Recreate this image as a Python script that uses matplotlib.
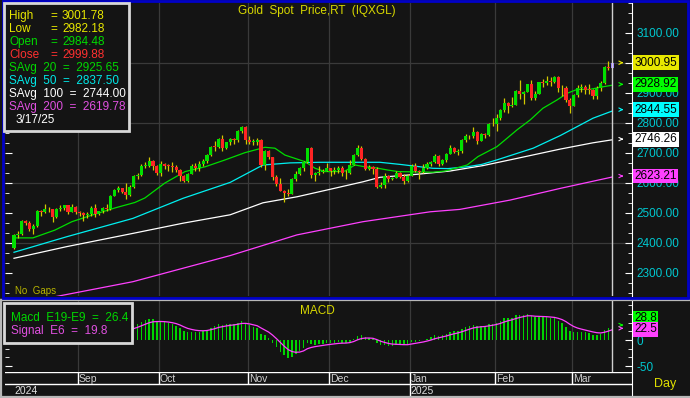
import matplotlib.pyplot as plt
import matplotlib.transforms as mtransforms
from matplotlib.patches import Rectangle
from matplotlib.lines import Line2D
import numpy as np
import pandas as pd

plt.rcParams['font.family'] = ['Liberation Sans', 'DejaVu Sans']

# trading days shown (spot gold, no Christmas / New Year bars)
dates = pd.bdate_range('2024-08-08', '2025-03-17')
dates = dates[~dates.isin(pd.to_datetime(['2024-12-25', '2025-01-01']))]

closes = [
    # Aug
    2427, 2431, 2472, 2465, 2447, 2456, 2507, 2504, 2514, 2512, 2485, 2512, 2518, 2525, 2504, 2521, 2503,
    # Sep
    2500, 2493, 2495, 2517, 2497, 2506, 2516, 2512, 2558, 2578, 2582, 2569, 2559, 2587, 2622, 2628, 2657,
    2657, 2672, 2658, 2634,
    # Oct
    2662, 2657, 2656, 2653, 2644, 2622, 2608, 2630, 2657, 2649, 2662, 2674, 2692, 2721, 2720, 2748, 2715,
    2736, 2747, 2743, 2774, 2788, 2744,
    # Nov
    2736, 2736, 2743, 2659, 2706, 2685, 2619, 2598, 2573, 2565, 2563, 2612, 2631, 2650, 2670, 2715, 2625,
    2633, 2638, 2641, 2650,
    # Dec
    2640, 2643, 2650, 2632, 2633, 2660, 2694, 2718, 2680, 2648, 2652, 2646, 2586, 2594, 2622, 2612, 2617,
    2634, 2621, 2606, 2624,
    # Jan
    2658, 2640, 2636, 2649, 2662, 2670, 2690, 2663, 2677, 2697, 2715, 2702, 2708, 2744, 2755, 2755, 2770,
    2740, 2763, 2760, 2795, 2798,
    # Feb
    2815, 2842, 2867, 2856, 2861, 2908, 2898, 2904, 2929, 2882, 2898, 2935, 2933, 2939, 2936, 2952, 2915,
    2916, 2876, 2858,
    # Mar
    2893, 2918, 2920, 2911, 2910, 2889, 2916, 2934, 2988, 2984, 2999.88,
]
highs = [
    2431, 2439, 2475, 2477, 2473, 2463, 2509, 2510, 2531, 2520, 2514, 2517, 2527, 2528, 2528, 2529, 2524,
    2505, 2503, 2503, 2523, 2529, 2508, 2519, 2529, 2560, 2581, 2590, 2584, 2600, 2594, 2625, 2633, 2664,
    2670, 2686, 2675, 2660,
    2673, 2667, 2664, 2670, 2660, 2646, 2625, 2634, 2664, 2667, 2673, 2679, 2696, 2723, 2740, 2749, 2759,
    2738, 2749, 2750, 2775, 2790, 2791,
    2757, 2745, 2750, 2747, 2710, 2709, 2685, 2627, 2618, 2575, 2579, 2615, 2639, 2652, 2674, 2717, 2721,
    2637, 2656, 2646, 2666,
    2650, 2652, 2658, 2656, 2644, 2676, 2697, 2726, 2722, 2684, 2661, 2655, 2654, 2604, 2632, 2628, 2620,
    2639, 2637, 2629, 2630,
    2662, 2665, 2643, 2664, 2671, 2674, 2697, 2694, 2680, 2701, 2725, 2719, 2714, 2746, 2763, 2760, 2786,
    2772, 2766, 2765, 2800, 2817,
    2830, 2845, 2882, 2869, 2886, 2911, 2942, 2908, 2931, 2943, 2908, 2938, 2947, 2955, 2954, 2956, 2956,
    2925, 2922, 2883,
    2896, 2928, 2930, 2927, 2930, 2914, 2922, 2940, 2990, 3005, 3001.78,
]
lows = [
    2380, 2417, 2428, 2459, 2440, 2431, 2452, 2491, 2500, 2502, 2470, 2483, 2505, 2511, 2497, 2502, 2496,
    2489, 2472, 2484, 2491, 2485, 2494, 2500, 2506, 2510, 2556, 2571, 2565, 2546, 2558, 2584, 2612, 2622,
    2650, 2654, 2643, 2625,
    2624, 2647, 2641, 2638, 2638, 2605, 2604, 2603, 2629, 2640, 2641, 2655, 2668, 2690, 2705, 2716, 2708,
    2712, 2725, 2731, 2736, 2766, 2730,
    2731, 2727, 2725, 2653, 2643, 2680, 2610, 2590, 2572, 2537, 2555, 2562, 2607, 2626, 2641, 2668, 2617,
    2605, 2627, 2632, 2640,
    2622, 2629, 2634, 2624, 2614, 2629, 2660, 2690, 2676, 2642, 2642, 2631, 2583, 2583, 2584, 2602, 2609,
    2615, 2617, 2596, 2604,
    2624, 2635, 2614, 2632, 2645, 2656, 2665, 2656, 2660, 2670, 2695, 2700, 2694, 2700, 2736, 2745, 2750,
    2730, 2739, 2750, 2756, 2790,
    2772, 2810, 2836, 2834, 2853, 2860, 2880, 2864, 2903, 2876, 2878, 2895, 2920, 2925, 2922, 2932, 2903,
    2890, 2871, 2832,
    2855, 2885, 2904, 2895, 2895, 2880, 2880, 2907, 2931, 2978, 2982.18,
]
first_open = 2382.0
last_open = 2984.48
opens = [first_open] + closes[:-1]
opens[-1] = last_open

# moving averages: (bar index, value)
sma20_i = [0, 4.9, 10.6, 15, 20.2, 26.2, 31.3, 33.9, 39.1, 44.3, 49.5, 54.7, 59.8, 65, 67.6, 70.2, 72.8,
           75.4, 78, 80.6, 83.2, 85.8, 88.3, 90.9, 93.5, 96.9, 99.5, 108.5, 111.7, 113.5, 117.4, 120.2,
           125.1, 126.7, 130.3, 133.7, 137, 140.7, 143.3, 145.9, 149.2, 151.8, 155]
sma20_v = [2417, 2417, 2443, 2471, 2493, 2517, 2535, 2550, 2600, 2638, 2654, 2677, 2701, 2719, 2716, 2693,
           2682, 2671, 2649, 2638, 2638, 2640, 2660, 2654, 2651, 2643, 2638, 2636, 2640, 2646, 2660, 2688,
           2721, 2738, 2777, 2810, 2849, 2877, 2899, 2912, 2912, 2919, 2926]
sma50_i = [0, 13.7, 30.8, 43.8, 56, 64.5, 71.5, 79.3, 94.8, 100, 108.5, 112.4, 117.4, 121.2, 125.1, 134.5,
           141.5, 150, 155]
sma50_v = [2369, 2421, 2482, 2549, 2602, 2660, 2667, 2669, 2669, 2662, 2649, 2648, 2654, 2662, 2677, 2716,
           2758, 2816, 2840]
sma100_i = [0, 13.7, 30.8, 43.8, 56, 64.5, 73.3, 81.9, 90.4, 94.8, 104.4, 113, 121.5, 130.3, 141.5, 150, 155]
sma100_v = [2349, 2388, 2432, 2466, 2494, 2534, 2554, 2579, 2604, 2619, 2629, 2640, 2658, 2682, 2713, 2734,
            2744]
sma200_i = [0, 11.9, 30.8, 56, 73.3, 90.4, 107.8, 115.5, 128.5, 141.5, 155]
sma200_v = [2195, 2224, 2271, 2358, 2427, 2471, 2504, 2512, 2543, 2582, 2620]

sma_last = [2925.65, 2837.50, 2744.00, 2619.78]
tag_values = [3000.95, 2928.92, 2844.55, 2746.26, 2623.21]
macd_tag, signal_tag = 28.8, 22.5
macd_legend, signal_legend = 26.4, 19.8

BG = '#141414'
GRID = '#3a3a3a'
GREEN, RED, WICK = '#00e000', '#ff2424', '#d2c800'
CYAN, MAG, YEL = '#00f0f0', '#ff40ff', '#e8e800'

W, H = 690, 398
def fx(px):
    return px / W
def fy(py):
    return 1 - py / H

n = len(closes)
idx = np.arange(n)
o = np.array(opens); c = np.array(closes); hi = np.array(highs); lo = np.array(lows)

fig = plt.figure(figsize=(6.9, 3.98), dpi=100, facecolor=BG)

# ---------- price panel ----------
ax = fig.add_axes([fx(5), fy(296), (632 - 5) / W, (296 - 3) / H], facecolor=BG)
ax.set_xlim(-2.33, 160.1)
ax.set_ylim(2223.3, 3200)

month_start = [i for i in range(1, n) if dates[i].month != dates[i - 1].month]
for i in month_start:
    ax.axvline(i - 0.5, color=GRID, lw=0.9, zorder=0)
for lvl in range(2400, 3001, 200):
    ax.axhline(lvl, color=GRID, lw=0.9, zorder=0)

ax.plot(sma200_i, sma200_v, color=MAG, lw=0.9, zorder=2)
ax.plot(sma100_i, sma100_v, color='white', lw=0.9, zorder=2)
ax.plot(sma50_i, sma50_v, color=CYAN, lw=0.9, zorder=2)
ax.plot(sma20_i, sma20_v, color='#00dd00', lw=0.9, zorder=2)

body_col = [GREEN if cc >= oo else RED for oo, cc in zip(o, c)]
body_col[-1] = '#9a78ff'
ax.vlines(idx, lo, hi, colors=WICK, lw=0.9, zorder=3)
ax.bar(idx, np.maximum(np.abs(c - o), 2.5), bottom=np.minimum(o, c), width=0.8,
       color=body_col, lw=0, zorder=4)

ax.axvline(n - 1, color='#d0d0d0', lw=1, zorder=5)

# the 3000 label sits fully under the last-price tag, so it is left blank
yt = list(range(2300, 3101, 100))
ax.yaxis.tick_right()
ax.set_yticks(yt)
ax.set_yticklabels(['' if v == 3000 else f'{v:.2f}' for v in yt])
ax.set_yticks(np.arange(2233.33, 3200, 100 / 3), minor=True)
ax.tick_params(axis='y', which='both', left=True, right=True, labelleft=False, labelright=True,
               direction='in', color='white', labelcolor='#00c8d0', labelsize=8.5, pad=3)
ax.tick_params(axis='y', which='major', length=5)
ax.tick_params(axis='y', which='minor', length=3)
ax.set_xticks([])
for s in ['top', 'bottom', 'left']:
    ax.spines[s].set_visible(False)
ax.spines['right'].set_color('white')

tr = mtransforms.blended_transform_factory(ax.transAxes, ax.transData)
tag_cols = [YEL, '#00ff00', '#00ffff', 'white', MAG]
for val, col in zip(tag_values, tag_cols):
    ax.text(1.004, val, f'{val:.2f}', transform=tr, ha='left', va='center', fontsize=8.5, color='black',
            bbox=dict(boxstyle='square,pad=0.12', fc=col, ec='none'), clip_on=False, zorder=10)
    ax.annotate('', xy=(158.6, val), xytext=(156.6, val),
                arrowprops=dict(arrowstyle='->', color=col, lw=0.8, mutation_scale=6), zorder=6)

fig.text(fx(317), fy(11), 'Gold  Spot  Price,RT  (IQXGL)', color='#d8d800', fontsize=8.5,
         ha='center', va='center')
fig.text(fx(15), fy(291), 'No  Gaps', color='#b8b400', fontsize=7, ha='left', va='center')

# ---------- MACD panel ----------
def ema(vals, span):
    k = 2 / (span + 1)
    out = [vals[0]]
    for v in vals[1:]:
        out.append(out[-1] + k * (v - out[-1]))
    return np.array(out)

macd = ema(closes, 9) - ema(closes, 19)
signal = ema(list(macd), 6)

ax2 = fig.add_axes([fx(5), fy(372), (632 - 5) / W, (372 - 301) / H], facecolor=BG)
ax2.set_xlim(-2.33, 160.1)
ax2.set_ylim(-61.5, 75)
for i in month_start:
    ax2.axvline(i - 0.5, color=GRID, lw=0.9, zorder=0)
ax2.bar(idx, macd, width=0.38, color='#00d400', lw=0, zorder=2)
ax2.plot(idx, signal, color=MAG, lw=0.9, zorder=3)
ax2.axvline(n - 1, color='#d0d0d0', lw=1, zorder=5)
ax2.yaxis.tick_right()
ax2.set_yticks([0, -50])
ax2.set_yticklabels(['0', '-50'])
ax2.set_yticks(np.arange(-50, 75, 50 / 3), minor=True)
ax2.tick_params(axis='y', which='both', left=True, right=True, labelleft=False, labelright=True,
                direction='in', color='white', labelcolor='#00c8d0', labelsize=8.5, pad=3)
ax2.tick_params(axis='y', which='major', length=5)
ax2.tick_params(axis='y', which='minor', length=3)
ax2.set_xticks([])
for s in ['top', 'bottom', 'left']:
    ax2.spines[s].set_visible(False)
ax2.spines['right'].set_color('white')
ax2.annotate('', xy=(158.6, macd_tag), xytext=(156.6, macd_tag),
             arrowprops=dict(arrowstyle='->', color='#00ff00', lw=0.8, mutation_scale=6))
ax2.annotate('', xy=(158.6, signal_tag), xytext=(156.6, signal_tag),
             arrowprops=dict(arrowstyle='->', color=MAG, lw=0.8, mutation_scale=6))

fig.text(fx(634), fy(318), f'{macd_tag:.1f}', color='black', fontsize=8.5, ha='left', va='center',
         bbox=dict(boxstyle='square,pad=0.12', fc='#00ff00', ec='none'), zorder=10)
fig.text(fx(634), fy(329.5), f'{signal_tag:.1f}', color='black', fontsize=8.5, ha='left', va='center',
         bbox=dict(boxstyle='square,pad=0.12', fc=MAG, ec='none'), zorder=10)
fig.text(fx(317), fy(311), 'MACD', color='#d8d800', fontsize=8.5, ha='center', va='center')

# ---------- date strip ----------
ax3 = fig.add_axes([fx(5), fy(396), (632 - 5) / W, (396 - 372) / H], facecolor=BG)
ax3.set_xlim(-2.33, 160.1)
ax3.set_ylim(24, 0)
ax3.axhline(0.3, color='white', lw=1)
ax3.axhline(12, color='white', lw=1)
for i in month_start:
    new_year = dates[i].year != dates[i - 1].year
    ax3.vlines(i - 0.5, 0, 24 if new_year else 12, color='white', lw=1)
    ax3.text(i - 0.2, 6.6, dates[i].strftime('%b'), color='#d0d0d0', fontsize=7.5, ha='left', va='center')
    if new_year:
        ax3.text(i - 0.2, 18.6, str(dates[i].year), color='#e0e0e0', fontsize=7.5, ha='left', va='center')
ax3.text(0.2, 18.6, str(dates[0].year), color='#e0e0e0', fontsize=7.5, ha='left', va='center')
ax3.set_xticks([]); ax3.set_yticks([])
for s in ['top', 'bottom', 'left']:
    ax3.spines[s].set_visible(False)
ax3.spines['right'].set_color('white')
fig.text(fx(665), fy(384), 'Day', color='#e0e000', fontsize=9, ha='center', va='center')

# ---------- frames ----------
fig.add_artist(Rectangle((fx(3.5), fy(297.5)), (688 - 3.5) / W, (297.5 - 1) / H, transform=fig.transFigure,
                         fill=False, ec='#0000c8', lw=2, zorder=8))
fig.add_artist(Line2D([0, 1], [fy(300), fy(300)], transform=fig.transFigure, color='#b8b8b8', lw=1.6))
fig.add_artist(Line2D([fx(1), fx(1)], [fy(300), fy(397)], transform=fig.transFigure, color='#b8b8b8', lw=1.6))
fig.add_artist(Line2D([0, 1], [fy(397), fy(397)], transform=fig.transFigure, color='#b8b8b8', lw=1.6))

# ---------- legend boxes ----------
fig.add_artist(Rectangle((fx(4), fy(131)), 125 / W, 128 / H, transform=fig.transFigure,
                         fc=BG, ec='#d8d8d8', lw=2, zorder=9))
rows = [('High', highs[-1], YEL), ('Low', lows[-1], YEL), ('Open', opens[-1], '#00d800'),
        ('Close', closes[-1], '#ff3030')]
for k, (name, val, col) in enumerate(rows):
    yy = fy(16 + 13 * k)
    fig.text(fx(9), yy, name, color=col, fontsize=8.5, va='center', zorder=10)
    fig.text(fx(50), yy, '=', color=col, fontsize=8.5, va='center', zorder=10)
    fig.text(fx(62), yy, f'{val:.2f}', color=col, fontsize=8.5, va='center', zorder=10)
sma_rows = [('20', '#00d800'), ('50', '#00e8e8'), ('100', 'white'), ('200', '#e050e0')]
for k, ((per, col), val) in enumerate(zip(sma_rows, sma_last)):
    yy = fy(68 + 13 * k)
    fig.text(fx(9), yy, f'SAvg  {per}  =  {val:.2f}', color=col, fontsize=8.5, va='center', zorder=10)
fig.text(fx(16), fy(120), dates[-1].strftime('%-m/%-d/%y'), color='white', fontsize=8.5, va='center',
         zorder=10)

fig.add_artist(Rectangle((fx(4), fy(343)), 128 / W, 40 / H, transform=fig.transFigure,
                         fc=BG, ec='#d8d8d8', lw=2, zorder=9))
fig.text(fx(11), fy(318), f'Macd  E19-E9  =  {macd_legend}', color='#00d800', fontsize=8.5, va='center',
         zorder=10)
fig.text(fx(11), fy(331), f'Signal  E6  =  {signal_legend}', color='#e050e0', fontsize=8.5, va='center',
         zorder=10)

fig.savefig('out.png', dpi=100, facecolor=BG)
